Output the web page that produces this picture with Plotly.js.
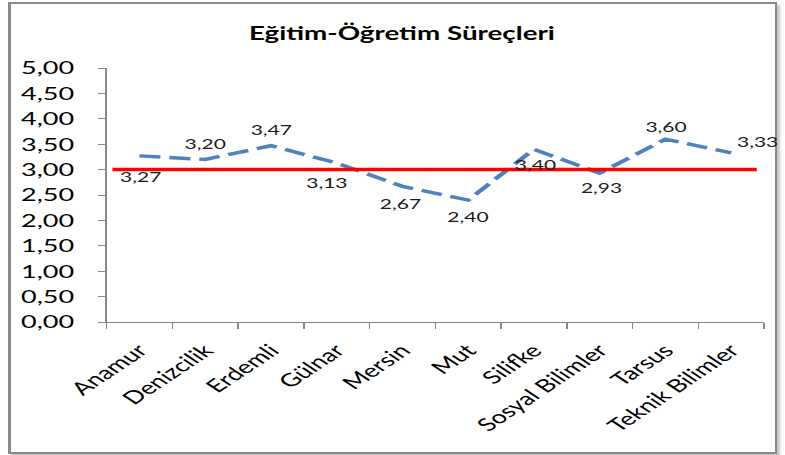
<!DOCTYPE html>
<html>
<head>
<meta charset="utf-8">
<script src="https://cdn.plot.ly/plotly-3.0.1.min.js"></script>
<style>
html,body{margin:0;padding:0;background:#fff;overflow:hidden;}
#frame{position:absolute;left:8px;top:2px;width:764px;height:448px;border:2px solid #8a8a8a;border-left-width:3px;box-shadow:3px 3px 2px #c8c8c8;}
#chart{position:absolute;left:0;top:0;width:523px;height:455px;transform:scaleX(1.501);transform-origin:0 0;}
</style>
</head>
<body>
<div id="frame"></div>
<div id="chart"></div>
<script>
const categories = ["Anamur","Denizcilik","Erdemli","Gülnar","Mersin","Mut","Silifke","Sosyal Bilimler","Tarsus","Teknik Bilimler"];
const values = [3.27, 3.20, 3.47, 3.13, 2.67, 2.40, 3.40, 2.93, 3.60, 3.33];
const threshold = 3.0;
const yTickVals = [0,0.5,1,1.5,2,2.5,3,3.5,4,4.5,5];
const yTickText = ["0,00","0,50","1,00","1,50","2,00","2,50","3,00","3,50","4,00","4,50","5,00"];
const labelText = values.map(v => v.toFixed(2).replace('.', ','));

// label offsets (style only)
const lblDx = [1, 0, 0, -6, -1, 0, 1, 1, 1, 18];
const lblDy = [-21, 16, 16, -19, -17, -16, -15, -14, 13, 11];

const trace = {
  x: categories,
  y: values,
  type: 'scatter',
  mode: 'lines',
  line: {color: '#4f81bd', width: 3.5, dash: '14px,6px'},
  hoverinfo: 'skip'
};

const annotations = categories.map((c, i) => ({
  x: c, y: values[i], xref: 'x', yref: 'y',
  text: labelText[i], showarrow: false,
  xshift: lblDx[i], yshift: lblDy[i],
  font: {family: 'Lato', size: 14, color: '#1a1a1a'}
}));

const layout = {
  width: 523, height: 455,
  margin: {l: 71, r: 14, t: 68, b: 133},
  paper_bgcolor: 'rgba(0,0,0,0)',
  plot_bgcolor: 'rgba(0,0,0,0)',
  showlegend: false,
  title: {text: 'Eğitim-Öğretim Süreçleri', font: {family: 'Lato', size: 18.5, color: '#000', weight: 'bold'}, x: 0.512, xref: 'container', y: 0.927, yref: 'container', yanchor: 'middle'},
  xaxis: {
    type: 'category',
    tickangle: -45,
    ticks: 'outside', ticklen: 6, tickcolor: '#888',
    tickson: 'boundaries',
    ticklabelstandoff: 10,
    showline: true, linecolor: '#888', linewidth: 1,
    showgrid: false,
    tickfont: {family: 'Lato', size: 18, color: '#000'},
    range: [-0.5, categories.length - 0.5]
  },
  yaxis: {
    range: [0, 5],
    tickvals: yTickVals, ticktext: yTickText,
    ticks: 'outside', ticklen: 5, tickcolor: '#888',
    ticklabelstandoff: 12,
    showline: true, linecolor: '#888', linewidth: 1,
    showgrid: false, zeroline: false,
    tickfont: {family: 'Lato', size: 18, color: '#000'}
  },
  annotations: annotations,
  shapes: [{
    type: 'line', xref: 'paper', yref: 'y',
    x0: 0.009, x1: 0.989, y0: threshold, y1: threshold,
    line: {color: '#ff0000', width: 3.5}
  }]
};

Plotly.newPlot('chart', [trace], layout, {displayModeBar: false, staticPlot: true});
</script>
</body>
</html>
